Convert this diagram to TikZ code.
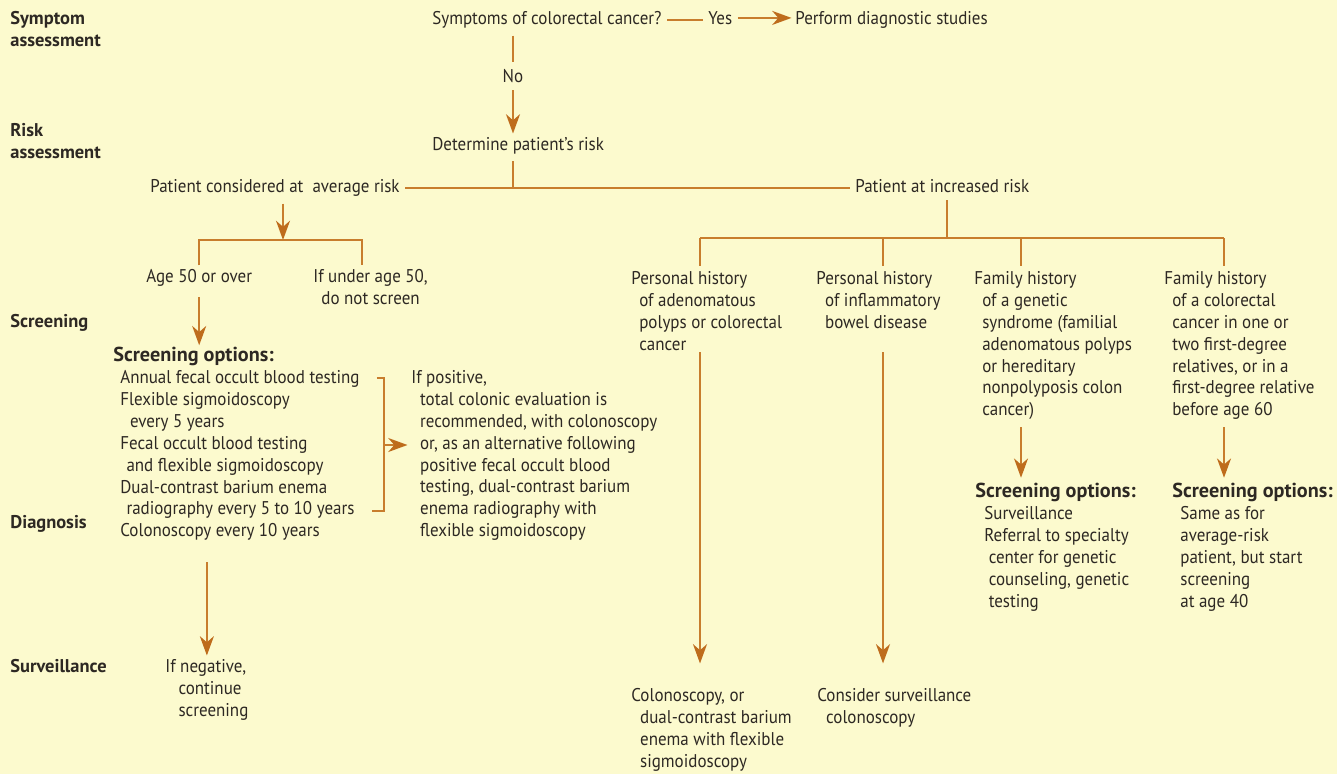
\documentclass[tikz,border=0pt]{standalone}
\usepackage{fontspec}
\usepackage{xcolor}
\usepackage{tikz}
\usetikzlibrary{arrows.meta, calc}

\setmainfont[FakeStretch=0.92]{PT Sans}
\newfontfamily\stagefont{PT Sans}

\definecolor{paper}{RGB}{252,250,206}
\definecolor{flow}{RGB}{200,125,45}
\definecolor{tipcol}{RGB}{190,108,28}
\definecolor{ink}{RGB}{45,40,35}

\newcommand{\txt}{\fontsize{10.5}{12.47}\selectfont}
\newcommand{\hd}{\stagefont\bfseries\fontsize{10.5}{12.47}\selectfont}
\newcommand{\hdopt}{\stagefont\bfseries\fontsize{11.5}{12.47}\selectfont}
\newcommand{\ind}[1]{\hspace*{#1pt}}

\tikzset{
    link/.style={draw=flow, line width=0.9pt},
    arrowed/.style={link, -{Stealth[length=11pt, width=8pt, inset=3.5pt, color=tipcol]}}
}

\begin{document}
\begin{tikzpicture}[x=0.02cm, y=-0.02cm]
\fill[paper] (0,0) rectangle (1337,774);
\useasboundingbox (0,0) rectangle (1337,774);

\begin{scope}[every node/.style={anchor=north west, inner sep=0pt, align=left, text=ink, font=\txt}]

    % stages
    \node[font=\hd] (S_sym) at (10,11) {Symptom\\assessment};
    \node[font=\hd] (S_risk) at (10,123) {Risk\\assessment};
    \node[font=\hd] (S_scr) at (10,314) {Screening};
    \node[font=\hd] (S_diag) at (10,515) {Diagnosis};
    \node[font=\hd] (S_surv) at (10,659) {Surveillance};
    % symptom
    \node (sym) at (432,11) {Symptoms of colorectal cancer?};
    \node (yes) at (708,11) {Yes};
    \node (perform) at (795,11) {Perform diagnostic studies};
    \node[anchor=north] (no) at (513,69) {No};
    % risk
    \node (risk) at (432,137) {Determine patient's risk};
    \node (avg) at (150,179) {Patient considered at\ \ average risk};
    \node (inc) at (855,179) {Patient at increased risk};
    % average risk
    \node (age50) at (146,269) {Age 50 or over};
    \node[align=center] (under50) at (313,269) {If under age 50,\\do not screen};
    \node[font=\hdopt] (scr_avg_head) at (113,347) {Screening options:};
    \node (scr_avg_list) at (120,370) {Annual fecal occult blood testing\\
        Flexible sigmoidoscopy\\
        \ind{5.5}every 5 years\\
        Fecal occult blood testing\\
        \ind{3.5}and flexible sigmoidoscopy\\
        Dual-contrast barium enema\\
        \ind{3.5}radiography every 5 to 10 years\\
        Colonoscopy every 10 years};
    \node (pos) at (411,370) {If positive,\\
        \ind{5}total colonic evaluation is\\
        \ind{5}recommended, with colonoscopy\\
        \ind{5}or, as an alternative following\\
        \ind{5}positive fecal occult blood\\
        \ind{5}testing, dual-contrast barium\\
        \ind{5}enema radiography with\\
        \ind{5}flexible sigmoidoscopy};
    \node (neg) at (165,659) {If negative,\\\ind{7.5}continue\\\ind{7.5}screening};
    % increased risk
    \node (ph_polyp) at (631,271) {Personal history\\
        \ind{4.5}of adenomatous\\
        \ind{4.5}polyps or colorectal\\
        \ind{4.5}cancer};
    \node (ph_ibd) at (816,271) {Personal history\\
        \ind{5}of inflammatory\\
        \ind{5}bowel disease};
    \node (fh_gen) at (974,271) {Family history\\
        \ind{4.5}of a genetic\\
        \ind{4.5}syndrome (familial\\
        \ind{4.5}adenomatous polyps\\
        \ind{4.5}or hereditary\\
        \ind{4.5}nonpolyposis colon\\
        \ind{4.5}cancer)};
    \node (fh_crc) at (1164,271) {Family history\\
        \ind{4.5}of a colorectal\\
        \ind{4.5}cancer in one or\\
        \ind{4.5}two first-degree\\
        \ind{4.5}relatives, or in a\\
        \ind{4.5}first-degree relative\\
        \ind{4.5}before age 60};
    \node[font=\hdopt] (gen_head) at (975,483) {Screening options:};
    \node (gen_list) at (984,506) {Surveillance\\
        Referral to specialty\\
        \ind{2.5}center for genetic\\
        \ind{2.5}counseling, genetic\\
        \ind{2.5}testing};
    \node[font=\hdopt] (crc_head) at (1172,483) {Screening options:};
    \node (crc_list) at (1180,506) {Same as for\\
        average-risk\\
        patient, but start\\
        screening\\
        at age 40};
    \node (colon) at (631,688) {Colonoscopy, or\\
        \ind{5}dual-contrast barium\\
        \ind{5}enema with flexible\\
        \ind{5}sigmoidoscopy};
    \node (consider) at (817,688) {Consider surveillance\\\ind{5}colonoscopy};
\end{scope}

\coordinate (avg_j) at (283,240);
\coordinate (br_top) at (384,378);
\coordinate (br_mid) at (384,445);
\coordinate (br_bot) at (384,511);
\coordinate (inc_j) at (947,238);
\coordinate (d_polyp) at (700,238);
\coordinate (d_ibd) at (883,238);
\coordinate (d_gen) at (1021,238);
\coordinate (d_crc) at (1224,238);

\begin{scope}[
    every edge/.style={link}
]
    \path (sym.east) edge[shorten <=3pt, shorten >=3pt] (sym.east -| yes.west);
    \draw [arrowed, shorten <=3pt, shorten >=2pt] (yes.east) -- (yes.east -| perform.west);
    \path (no.north |- sym.south) edge[shorten <=4pt, shorten >=4pt] (no.north);
    \draw [arrowed, shorten <=4pt, shorten >=2pt] (no.south) -- (no.south |- risk.north);
    % risk
    \path (no |- risk.south) edge[shorten <=4pt] (no |- avg);
    \path (avg.east) edge[shorten <=3pt, shorten >=3pt] (avg.east -| inc.west);
    % average risk
    \draw [arrowed, shorten <=4pt] (avg_j |- avg.south) -- (avg_j);
    \draw [link, shorten <=2pt, shorten >=2pt]
        (age50.north) |- (avg_j) -| ([xshift=-5pt]under50.north);
    \draw [arrowed, shorten <=6pt, shorten >=1pt] (age50.south) -- (age50.south |- scr_avg_head.north);
    \draw [link] ([xshift=-4pt]br_top) -- (br_top) -- (br_bot) -- ([xshift=-7pt]br_bot);
    \draw [arrowed, shorten >=2pt] (br_mid) -- (br_mid -| pos.west);
    \draw [arrowed, shorten <=12pt, shorten >=2pt] (neg.north |- scr_avg_list.south) -- (neg.north);
    % increased risk
    \path (inc_j |- inc.south) edge[shorten <=4pt] (inc_j);
    \path (d_polyp) edge (d_crc);
    \path (d_polyp) edge[shorten >=3pt] (d_polyp |- ph_polyp.north);
    \path (d_ibd) edge[shorten >=3pt] (d_ibd |- ph_ibd.north);
    \path (d_gen) edge[shorten >=3pt] (d_gen |- fh_gen.north);
    \path (d_crc) edge[shorten >=3pt] (d_crc |- fh_crc.north);
    \draw [arrowed, shorten <=1pt, shorten >=14pt] (d_polyp |- ph_polyp.south) -- (d_polyp |- colon.north);
    \draw [arrowed, shorten <=1pt, shorten >=14pt] (d_ibd |- ph_polyp.south) -- (d_ibd |- consider.north);
    \draw [arrowed, shorten <=4pt, shorten >=3pt] (d_gen |- fh_gen.south) -- (d_gen |- gen_head.north);
    \draw [arrowed, shorten <=4pt, shorten >=3pt] (d_crc |- fh_crc.south) -- (d_crc |- crc_head.north);
\end{scope}
\end{tikzpicture}
\end{document}
